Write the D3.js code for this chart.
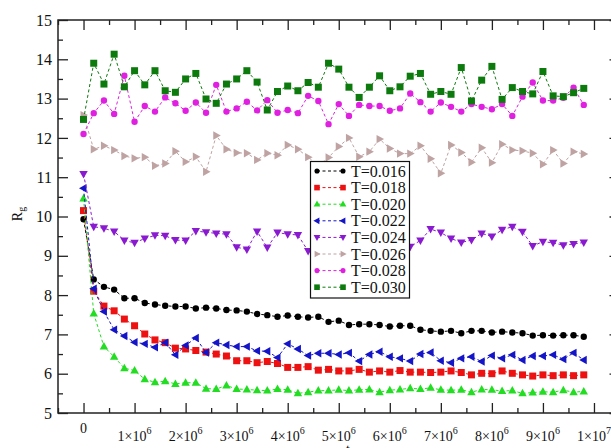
<!DOCTYPE html>
<html>
<head>
<meta charset="utf-8">
<script src="https://cdn.jsdelivr.net/npm/d3@7.9.0/dist/d3.min.js"></script>
<style>
  body { margin: 0; background: #fff; }
  svg { display: block; }
  .tick text { font-family: "Liberation Serif", "DejaVu Serif", serif; fill: #111; }
  .lbl { font-family: "Liberation Serif", "DejaVu Serif", serif; fill: #111; }
</style>
</head>
<body>
<svg id="chart" width="611" height="448"></svg>
<script>
// time steps (x values)
const tSteps = [0, 2e5, 4e5, 6e5, 8e5, 1.0e6, 1.2e6, 1.4e6, 1.6e6, 1.8e6,
  2.0e6, 2.2e6, 2.4e6, 2.6e6, 2.8e6, 3.0e6, 3.2e6, 3.4e6, 3.6e6, 3.8e6,
  4.0e6, 4.2e6, 4.4e6, 4.6e6, 4.8e6, 5.0e6, 5.2e6, 5.4e6, 5.6e6, 5.8e6,
  6.0e6, 6.2e6, 6.4e6, 6.6e6, 6.8e6, 7.0e6, 7.2e6, 7.4e6, 7.6e6, 7.8e6,
  8.0e6, 8.2e6, 8.4e6, 8.6e6, 8.8e6, 9.0e6, 9.2e6, 9.4e6, 9.6e6, 9.8e6];

const rgT016 = [9.93, 8.40, 8.21, 8.14, 7.92, 7.92, 7.80, 7.76, 7.73, 7.71,
  7.71, 7.66, 7.68, 7.66, 7.62, 7.61, 7.58, 7.52, 7.49, 7.45,
  7.48, 7.45, 7.43, 7.45, 7.32, 7.35, 7.24, 7.26, 7.26, 7.24,
  7.20, 7.22, 7.22, 7.12, 7.09, 7.07, 7.09, 7.03, 7.09, 7.09,
  7.05, 7.07, 7.05, 7.03, 6.97, 6.98, 6.97, 6.98, 6.98, 6.94];
const rgT018 = [10.15, 8.10, 7.72, 7.60, 7.39, 7.22, 7.01, 6.86, 6.79, 6.65,
  6.63, 6.59, 6.55, 6.50, 6.45, 6.33, 6.33, 6.28, 6.31, 6.26,
  6.16, 6.16, 6.18, 6.09, 6.11, 6.07, 6.07, 6.11, 6.04, 6.07,
  6.04, 6.08, 6.04, 6.04, 6.03, 6.04, 6.07, 6.03, 5.97, 6.01,
  6.00, 6.07, 6.01, 5.97, 5.94, 5.97, 5.95, 5.97, 5.95, 5.97];
const rgT020 = [10.46, 7.53, 6.69, 6.43, 6.14, 6.08, 5.86, 5.78, 5.81, 5.74,
  5.77, 5.77, 5.62, 5.61, 5.70, 5.61, 5.60, 5.58, 5.57, 5.61,
  5.59, 5.50, 5.53, 5.57, 5.57, 5.59, 5.57, 5.59, 5.60, 5.53,
  5.58, 5.60, 5.63, 5.61, 5.64, 5.59, 5.58, 5.59, 5.53, 5.60,
  5.59, 5.56, 5.57, 5.50, 5.52, 5.54, 5.53, 5.58, 5.53, 5.55];
const rgT022 = [10.72, 8.16, 7.58, 7.12, 6.96, 6.80, 6.76, 6.67, 6.79, 6.48,
  6.72, 6.91, 6.54, 6.79, 6.73, 6.69, 6.69, 6.58, 6.57, 6.41,
  6.76, 6.63, 6.46, 6.52, 6.52, 6.49, 6.53, 6.32, 6.49, 6.56,
  6.43, 6.39, 6.32, 6.50, 6.54, 6.33, 6.28, 6.39, 6.43, 6.31,
  6.46, 6.39, 6.48, 6.35, 6.45, 6.45, 6.48, 6.37, 6.53, 6.35];
const rgT024 = [11.08, 9.74, 9.70, 9.62, 9.39, 9.33, 9.44, 9.52, 9.51, 9.40,
  9.39, 9.63, 9.60, 9.57, 9.55, 9.22, 9.16, 9.62, 9.21, 9.59,
  9.55, 9.53, 9.12, 9.35, 9.45, 9.30, 9.50, 9.40, 9.30, 9.45,
  9.35, 9.40, 9.23, 9.39, 9.68, 9.59, 9.44, 9.34, 9.40, 9.57,
  9.49, 9.66, 9.74, 9.61, 9.25, 9.36, 9.33, 9.27, 9.30, 9.34];
const rgT026 = [12.58, 11.71, 11.80, 11.69, 11.54, 11.48, 11.51, 11.29, 11.35, 11.66,
  11.39, 11.52, 11.14, 12.06, 11.71, 11.62, 11.61, 11.44, 11.61, 11.56,
  11.82, 11.71, 11.51, 11.30, 11.50, 11.78, 12.00, 11.52, 11.65, 11.97,
  11.73, 11.60, 11.60, 11.80, 11.47, 11.10, 11.82, 11.63, 11.38, 11.75,
  11.37, 11.84, 11.69, 11.67, 11.61, 11.33, 11.69, 11.35, 11.65, 11.59];
const rgT028 = [12.10, 12.63, 12.95, 12.61, 13.58, 12.41, 12.81, 12.67, 13.03, 12.88,
  12.69, 12.90, 12.64, 13.35, 12.67, 12.75, 12.92, 12.70, 12.96, 12.64,
  12.71, 12.63, 13.07, 12.94, 12.35, 12.86, 12.56, 12.84, 12.81, 12.81,
  12.69, 12.75, 13.13, 12.91, 12.67, 12.90, 12.79, 12.67, 12.86, 12.79,
  12.73, 12.86, 12.56, 13.05, 13.41, 12.95, 12.95, 13.02, 13.28, 12.84];
const rgT030 = [12.47, 13.90, 13.37, 14.13, 13.30, 13.71, 13.35, 13.71, 13.20, 13.16,
  13.50, 13.64, 12.99, 12.88, 13.37, 13.50, 13.71, 13.42, 12.71, 13.18,
  13.32, 13.20, 13.41, 13.29, 13.90, 13.75, 13.29, 13.03, 13.29, 13.58,
  13.20, 13.30, 13.57, 13.64, 13.11, 13.18, 13.11, 13.79, 12.94, 13.47,
  13.82, 12.98, 13.28, 13.18, 13.12, 13.69, 13.07, 13.05, 13.15, 13.26];

const seriesNames = ["T=0.016", "T=0.018", "T=0.020", "T=0.022", "T=0.024", "T=0.026", "T=0.028", "T=0.030"];
const seriesValues = [rgT016, rgT018, rgT020, rgT022, rgT024, rgT026, rgT028, rgT030];
const seriesColors = ["#000000", "#ee1111", "#22dd22", "#1414c8", "#8a1ad0", "#bfa3a3", "#e020e0", "#0d7a0d"];
const seriesMarkers = ["circle", "square", "up", "left", "down", "right", "circle", "square"];

const xMajor = [0, 1e6, 2e6, 3e6, 4e6, 5e6, 6e6, 7e6, 8e6, 9e6, 1e7];
const xMinor = [-5e5, 5e5, 1.5e6, 2.5e6, 3.5e6, 4.5e6, 5.5e6, 6.5e6, 7.5e6, 8.5e6, 9.5e6, 1.05e7];
const yMajor = [5, 6, 7, 8, 9, 10, 11, 12, 13, 14, 15];
const yMinor = [5.5, 6.5, 7.5, 8.5, 9.5, 10.5, 11.5, 12.5, 13.5, 14.5];

const svg = d3.select("#chart");
const mLeft = 58, mRight = 619.5, mTop = 20, mBottom = 413;

const x = d3.scaleLinear().domain([-5e5, 1.05e7]).range([mLeft, mRight]);
const y = d3.scaleLinear().domain([5, 15]).range([mBottom, mTop]);

function markerPath(type) {
  switch (type) {
    case "circle": return d3.symbol(d3.symbolCircle, 32)();
    case "square": return "M-3.5,-3.5H3.5V3.5H-3.5Z";
    case "up": return "M0,-4.5L4.2,3L-4.2,3Z";
    case "down": return "M0,4.5L4.2,-3L-4.2,-3Z";
    case "left": return "M-4.5,0L3,-4.2L3,4.2Z";
    case "right": return "M4.5,0L-3,-4.2L-3,4.2Z";
  }
}

// series
const line = d3.line().x((d, i) => x(tSteps[i])).y(d => y(d));
const plot = svg.append("g");
seriesValues.forEach((vals, k) => {
  const g = plot.append("g");
  g.append("path")
    .attr("d", line(vals))
    .attr("fill", "none")
    .attr("stroke", seriesColors[k])
    .attr("stroke-width", 1)
    .attr("stroke-dasharray", "3,2.5");
  g.selectAll("path.m")
    .data(vals)
    .join("path")
    .attr("class", "m")
    .attr("d", markerPath(seriesMarkers[k]))
    .attr("transform", (d, i) => `translate(${x(tSteps[i])},${y(d)})`)
    .attr("fill", seriesColors[k]);
});

// frame
svg.append("rect")
  .attr("x", mLeft).attr("y", mTop)
  .attr("width", mRight - mLeft).attr("height", mBottom - mTop)
  .attr("fill", "none").attr("stroke", "#222").attr("stroke-width", 1.5);

const axisStyle = g => {
  g.select(".domain").remove();
  g.selectAll("line").attr("stroke", "#222").attr("stroke-width", 1.3);
};

// bottom axis
svg.append("g")
  .attr("transform", `translate(0,${mBottom})`)
  .call(d3.axisBottom(x).tickValues(xMajor).tickSize(-10).tickFormat(""))
  .call(axisStyle);
svg.append("g")
  .attr("transform", `translate(0,${mBottom})`)
  .call(d3.axisBottom(x).tickValues(xMinor).tickSize(-5).tickFormat(""))
  .call(axisStyle);
// top axis
svg.append("g")
  .attr("transform", `translate(0,${mTop})`)
  .call(d3.axisTop(x).tickValues(xMajor).tickSize(-10).tickFormat(""))
  .call(axisStyle);
svg.append("g")
  .attr("transform", `translate(0,${mTop})`)
  .call(d3.axisTop(x).tickValues(xMinor).tickSize(-5).tickFormat(""))
  .call(axisStyle);
// left axis
svg.append("g")
  .attr("transform", `translate(${mLeft},0)`)
  .call(d3.axisLeft(y).tickValues(yMajor).tickSize(-10).tickFormat(d3.format("d")))
  .call(axisStyle)
  .call(g => g.selectAll("text").attr("font-size", 16).attr("x", -6));
svg.append("g")
  .attr("transform", `translate(${mLeft},0)`)
  .call(d3.axisLeft(y).tickValues(yMinor).tickSize(-5).tickFormat(""))
  .call(axisStyle);
// right axis
svg.append("g")
  .attr("transform", `translate(${mRight},0)`)
  .call(d3.axisRight(y).tickValues(yMajor).tickSize(-10).tickFormat(""))
  .call(axisStyle);
svg.append("g")
  .attr("transform", `translate(${mRight},0)`)
  .call(d3.axisRight(y).tickValues(yMinor).tickSize(-5).tickFormat(""))
  .call(axisStyle);

// x tick labels with superscript exponents
const xl = svg.append("g").attr("class", "lbl").attr("font-size", 14);
xMajor.forEach(v => {
  const t = xl.append("text")
    .attr("x", x(v))
    .attr("text-anchor", "middle");
  if (v === 0) {
    t.attr("y", 433).text("0");
  } else {
    const exp = Math.floor(Math.log10(v) + 1e-9);
    const mant = Math.round(v / Math.pow(10, exp));
    t.attr("y", 441);
    t.append("tspan").text(`${mant}\u00d710`);
    t.append("tspan").attr("font-size", 10).attr("dy", -7).text(exp);
  }
});

// axis titles
svg.append("text")
  .attr("class", "lbl")
  .attr("transform", "translate(22,214) rotate(-90)")
  .attr("text-anchor", "middle")
  .attr("font-size", 14)
  .call(t => {
    t.append("tspan").text("R");
    t.append("tspan").attr("font-size", 10).attr("dy", 3).text("g");
  });
svg.append("text")
  .attr("class", "lbl")
  .attr("x", 348).attr("y", 454)
  .attr("font-size", 14)
  .attr("text-anchor", "middle")
  .text("t");

// legend
const lg = svg.append("g");
lg.append("rect")
  .attr("x", 310.5).attr("y", 161.5)
  .attr("width", 99).attr("height", 136.5)
  .attr("fill", "#fff").attr("stroke", "#111").attr("stroke-width", 1.2);
seriesNames.forEach((name, k) => {
  const cy = 171 + k * 16.6;
  lg.append("line")
    .attr("x1", 317).attr("x2", 343)
    .attr("y1", cy).attr("y2", cy)
    .attr("stroke", seriesColors[k])
    .attr("stroke-width", 1)
    .attr("stroke-dasharray", "3,2.5");
  [317, 343].forEach(px => {
    lg.append("path")
      .attr("d", markerPath(seriesMarkers[k]))
      .attr("transform", `translate(${px},${cy}) scale(0.8)`)
      .attr("fill", seriesColors[k]);
  });
  lg.append("text")
    .attr("class", "lbl")
    .attr("x", 351).attr("y", cy + 5.5)
    .attr("font-size", 16)
    .text(name);
});
</script>
</body>
</html>
